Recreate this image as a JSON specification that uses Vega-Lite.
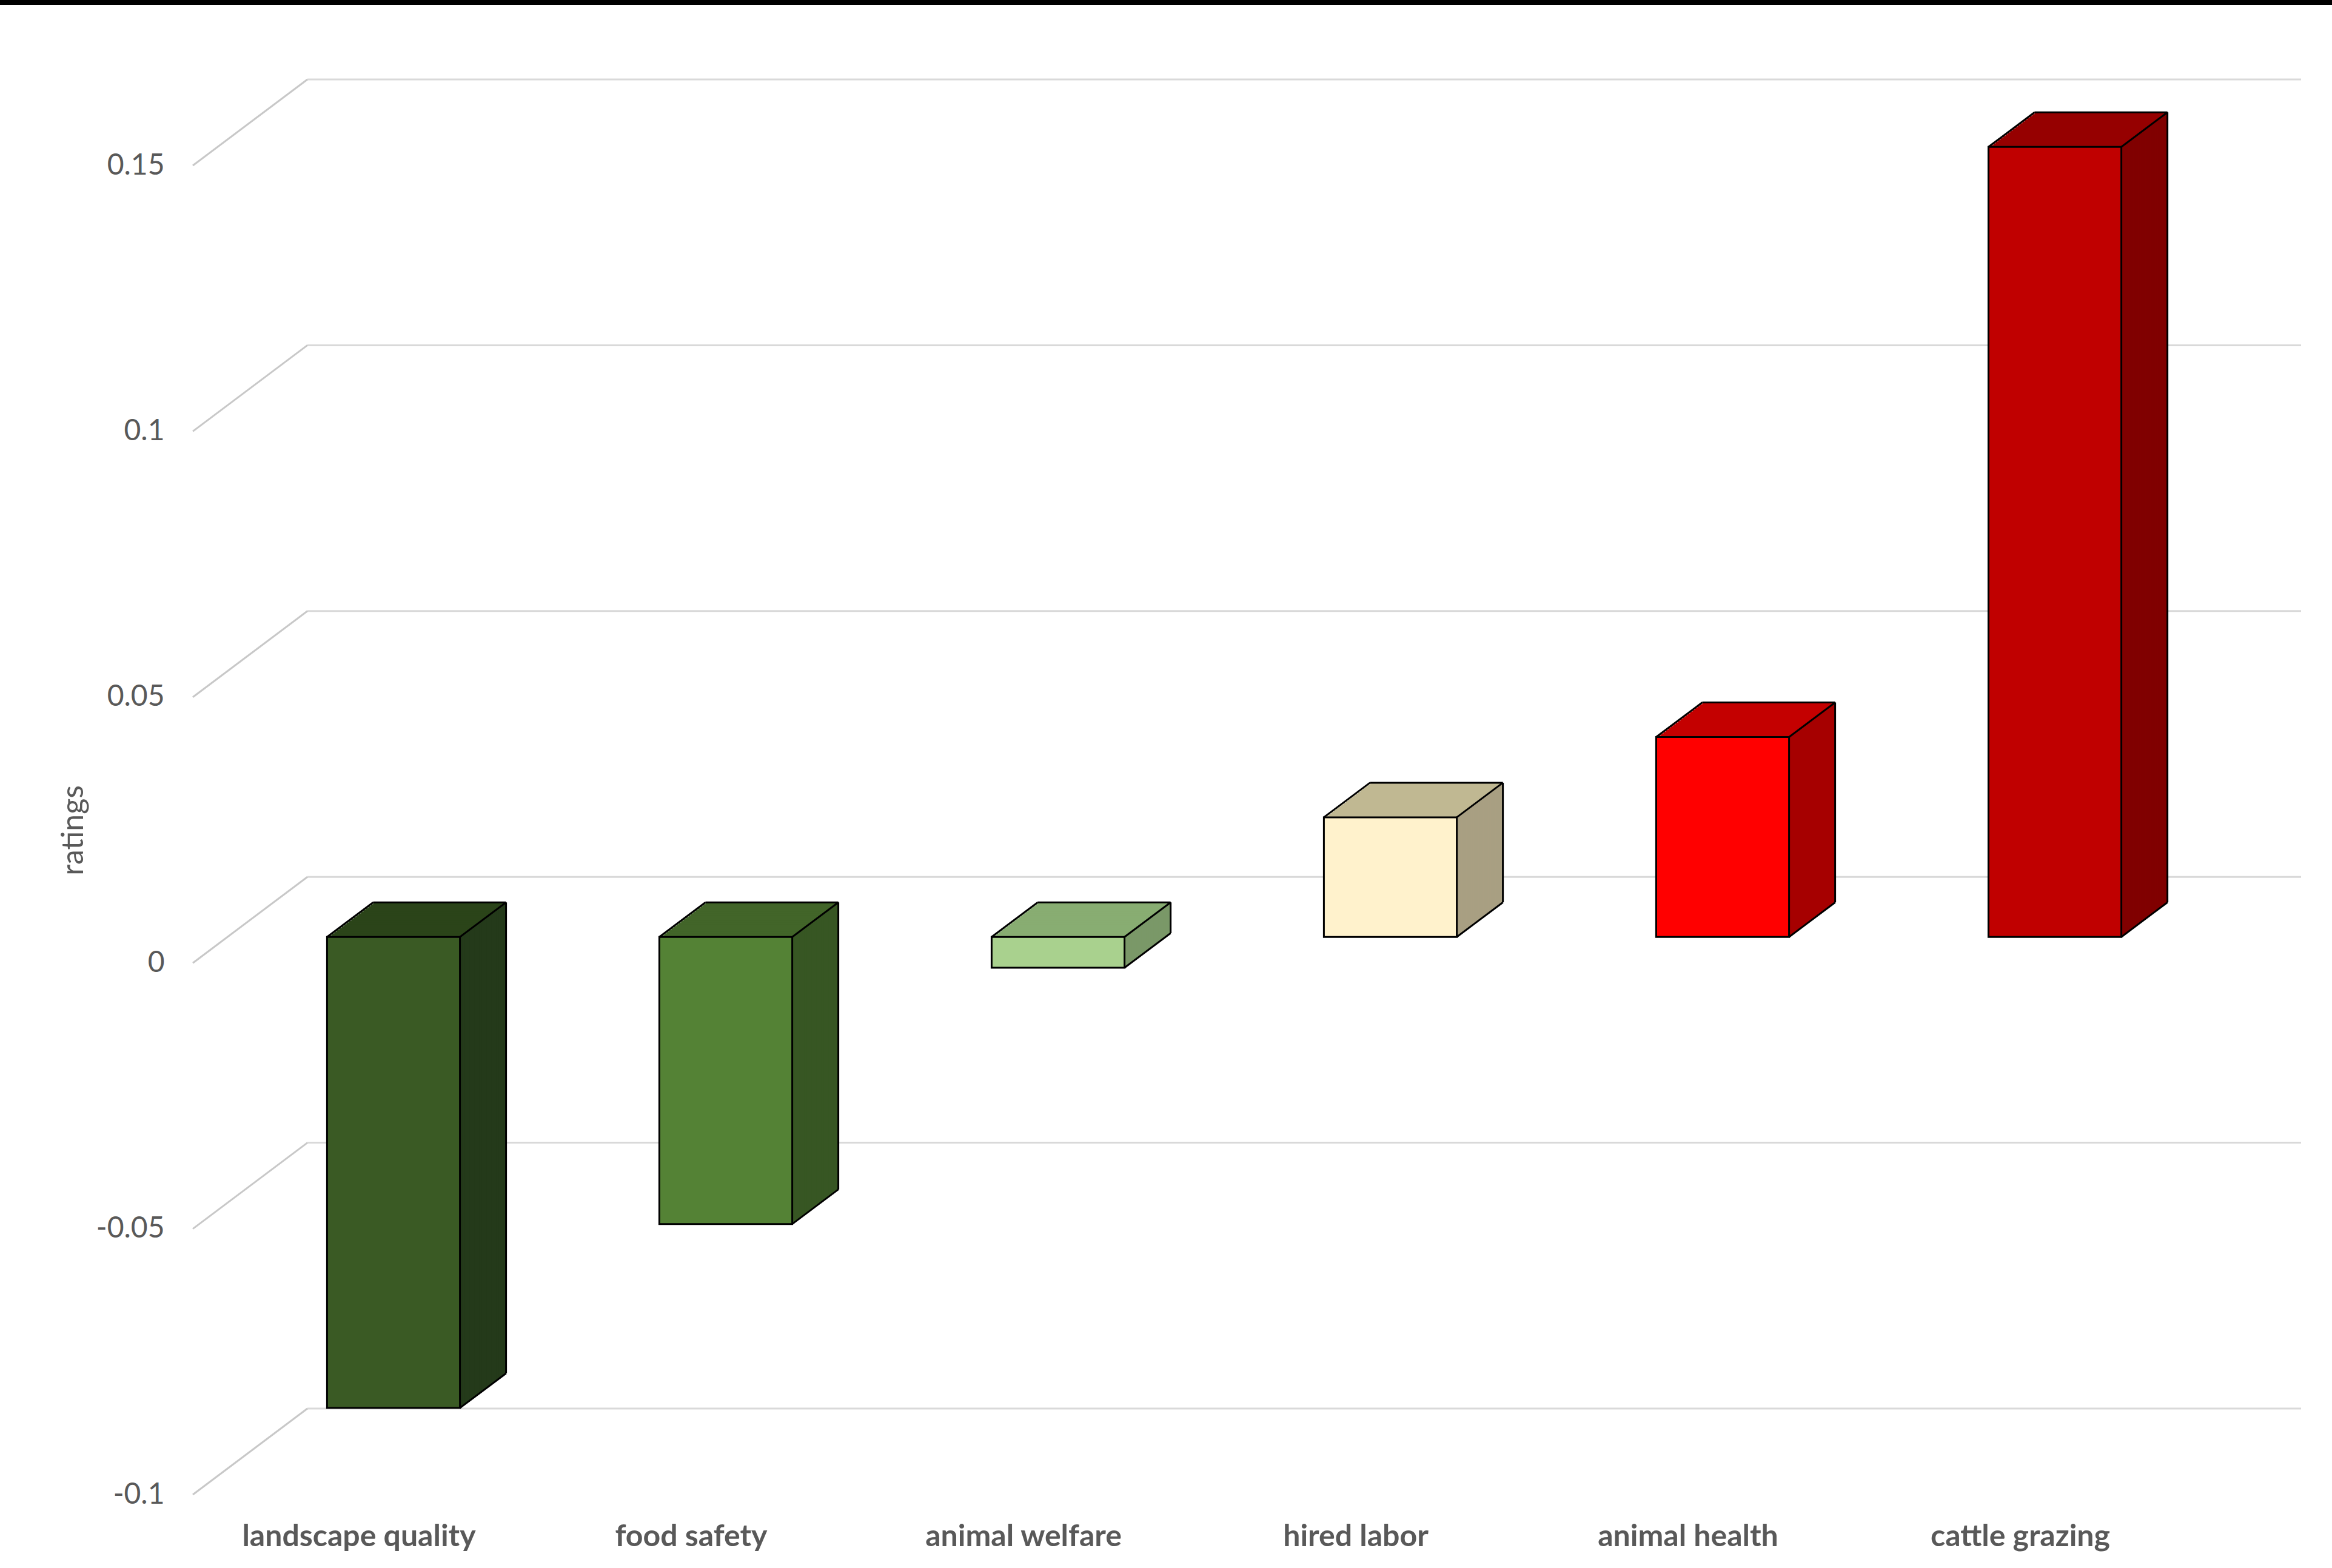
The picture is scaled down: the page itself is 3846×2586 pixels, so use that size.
{
  "$schema": "https://vega.github.io/schema/vega-lite/v6.json",
  "width": 3288,
  "height": 2192,
  "autosize": {"type": "none"},
  "padding": {"left": 318, "top": 273, "right": 240, "bottom": 121},
  "background": "white",
  "config": {"view": {"stroke": null}},
  "datasets": {
    "bars": [
      {"category": "landscape quality", "rating": -0.0886},
      {"category": "food safety", "rating": -0.054},
      {"category": "animal welfare", "rating": -0.0058},
      {"category": "hired labor", "rating": 0.0225},
      {"category": "animal health", "rating": 0.0376},
      {"category": "cattle grazing", "rating": 0.1486}
    ],
    "grid": [{"v": -0.1}, {"v": -0.05}, {"v": 0}, {"v": 0.05}, {"v": 0.1}, {"v": 0.15}],
    "frame": [{"edge": "top"}]
  },
  "layer": [
    {
      "data": {"name": "grid"},
      "encoding": {
        "y": {
          "field": "v", "type": "quantitative", "title": "ratings",
          "scale": {"domain": [-0.1, 0.15], "nice": false, "zero": false},
          "axis": {
            "values": [-0.1, -0.05, 0, 0.05, 0.1, 0.15], "grid": false, "domain": false, "ticks": false,
            "labelExpr": "datum.value < 0 ? '-' + format(-datum.value, '~g') : format(datum.value, '~g')",
            "labelFont": "Lato", "labelFontSize": 48, "labelColor": "#595959", "labelPadding": 47,
            "title": "ratings", "titleFont": "Lato", "titleFontSize": 50, "titleFontWeight": "normal", "titleColor": "#595959", "titlePadding": 12
          }
        }
      },
      "layer": [
        {
          "mark": {"type": "rule", "color": "#d9d9d9", "strokeWidth": 3, "xOffset": -85, "x2Offset": 463, "yOffset": -142},
          "encoding": {"x": {"datum": "landscape quality"}, "x2": {"datum": "cattle grazing"}}
        },
        {
          "mark": {"type": "rule", "color": "#c8c8c8", "strokeWidth": 3, "xOffset": -274, "x2Offset": -85, "y2Offset": -142},
          "encoding": {"x": {"datum": "landscape quality"}, "x2": {"datum": "landscape quality"}, "y2": {"field": "v"}}
        }
      ]
    },
    {
      "data": {"name": "frame"},
      "mark": {"type": "rule", "color": "#000000", "strokeWidth": 8, "xOffset": -592, "x2Offset": 514, "yOffset": -269},
      "encoding": {"x": {"datum": "landscape quality"}, "x2": {"datum": "cattle grazing"}, "y": {"datum": 0.15}}
    },
    {
      "data": {"name": "bars"},
      "encoding": {
        "x": {
          "field": "category", "type": "nominal", "sort": null,
          "scale": {"domain": ["landscape quality", "food safety", "animal welfare", "hired labor", "animal health", "cattle grazing"], "paddingInner": 0.6, "paddingOuter": 0.3},
          "axis": {"title": null, "labelAngle": 0, "labelAlign": "center", "labelBaseline": "top", "domain": false, "ticks": false, "labelLimit": 0, "labelFont": "Lato", "labelFontWeight": "bold", "labelFontSize": 50, "labelColor": "#595959", "labelPadding": 44}
        },
        "y": {
          "field": "rating", "type": "quantitative", "stack": null, "title": "ratings",
          "scale": {"domain": [-0.1, 0.15], "nice": false, "zero": false},
          "axis": {
            "values": [-0.1, -0.05, 0, 0.05, 0.1, 0.15], "grid": false, "domain": false, "ticks": false,
            "labelExpr": "datum.value < 0 ? '-' + format(-datum.value, '~g') : format(datum.value, '~g')",
            "labelFont": "Lato", "labelFontSize": 48, "labelColor": "#595959", "labelPadding": 47,
            "title": "ratings", "titleFont": "Lato", "titleFontSize": 50, "titleFontWeight": "normal", "titleColor": "#595959", "titlePadding": 12
          }
        }
      },
      "resolve": {"scale": {"color": "independent"}},
      "layer": [
        {
          "encoding": {
            "y2": {"datum": 0},
            "color": {"field": "category", "type": "nominal", "legend": null, "scale": {"domain": ["landscape quality", "food safety", "animal welfare", "hired labor", "animal health", "cattle grazing"], "range": ["#2b4419", "#426529", "#88ad72", "#c0b892", "#c40000", "#960000"]}}
          },
          "layer": [
            {"mark": {"type": "bar", "xOffset": 133, "yOffset": -100, "y2Offset": -100}},
            {"mark": {"type": "bar", "xOffset": 129, "yOffset": -97, "y2Offset": -97}},
            {"mark": {"type": "bar", "xOffset": 125, "yOffset": -94, "y2Offset": -94}},
            {"mark": {"type": "bar", "xOffset": 121, "yOffset": -91, "y2Offset": -91}},
            {"mark": {"type": "bar", "xOffset": 117, "yOffset": -88, "y2Offset": -88}},
            {"mark": {"type": "bar", "xOffset": 113, "yOffset": -85, "y2Offset": -85}},
            {"mark": {"type": "bar", "xOffset": 109, "yOffset": -82, "y2Offset": -82}},
            {"mark": {"type": "bar", "xOffset": 105, "yOffset": -79, "y2Offset": -79}},
            {"mark": {"type": "bar", "xOffset": 101, "yOffset": -76, "y2Offset": -76}},
            {"mark": {"type": "bar", "xOffset": 97, "yOffset": -73, "y2Offset": -73}},
            {"mark": {"type": "bar", "xOffset": 93, "yOffset": -70, "y2Offset": -70}},
            {"mark": {"type": "bar", "xOffset": 89, "yOffset": -67, "y2Offset": -67}},
            {"mark": {"type": "bar", "xOffset": 85, "yOffset": -64, "y2Offset": -64}},
            {"mark": {"type": "bar", "xOffset": 81, "yOffset": -61, "y2Offset": -61}},
            {"mark": {"type": "bar", "xOffset": 77, "yOffset": -58, "y2Offset": -58}},
            {"mark": {"type": "bar", "xOffset": 73, "yOffset": -55, "y2Offset": -55}},
            {"mark": {"type": "bar", "xOffset": 69, "yOffset": -52, "y2Offset": -52}},
            {"mark": {"type": "bar", "xOffset": 65, "yOffset": -49, "y2Offset": -49}},
            {"mark": {"type": "bar", "xOffset": 61, "yOffset": -46, "y2Offset": -46}}
          ]
        },
        {
          "encoding": {
            "y2": {"datum": 0},
            "color": {"field": "category", "type": "nominal", "legend": null, "scale": {"domain": ["landscape quality", "food safety", "animal welfare", "hired labor", "animal health", "cattle grazing"], "range": ["#243a1a", "#375623", "#7a9868", "#a89f82", "#a60000", "#800000"]}}
          },
          "layer": [
            {"mark": {"type": "bar", "width": 4.6, "xOffset": 168.6, "yOffset": -44.5, "y2Offset": -44.5}},
            {"mark": {"type": "bar", "width": 4.6, "xOffset": 172.6, "yOffset": -47.5, "y2Offset": -47.5}},
            {"mark": {"type": "bar", "width": 4.6, "xOffset": 176.6, "yOffset": -50.5, "y2Offset": -50.5}},
            {"mark": {"type": "bar", "width": 4.6, "xOffset": 180.6, "yOffset": -53.5, "y2Offset": -53.5}},
            {"mark": {"type": "bar", "width": 4.6, "xOffset": 184.6, "yOffset": -56.5, "y2Offset": -56.5}},
            {"mark": {"type": "bar", "width": 4.6, "xOffset": 188.6, "yOffset": -59.5, "y2Offset": -59.5}},
            {"mark": {"type": "bar", "width": 4.6, "xOffset": 192.6, "yOffset": -62.5, "y2Offset": -62.5}},
            {"mark": {"type": "bar", "width": 4.6, "xOffset": 196.6, "yOffset": -65.5, "y2Offset": -65.5}},
            {"mark": {"type": "bar", "width": 4.6, "xOffset": 200.6, "yOffset": -68.5, "y2Offset": -68.5}},
            {"mark": {"type": "bar", "width": 4.6, "xOffset": 204.6, "yOffset": -71.5, "y2Offset": -71.5}},
            {"mark": {"type": "bar", "width": 4.6, "xOffset": 208.6, "yOffset": -74.5, "y2Offset": -74.5}},
            {"mark": {"type": "bar", "width": 4.6, "xOffset": 212.6, "yOffset": -77.5, "y2Offset": -77.5}},
            {"mark": {"type": "bar", "width": 4.6, "xOffset": 216.6, "yOffset": -80.5, "y2Offset": -80.5}},
            {"mark": {"type": "bar", "width": 4.6, "xOffset": 220.6, "yOffset": -83.5, "y2Offset": -83.5}},
            {"mark": {"type": "bar", "width": 4.6, "xOffset": 224.6, "yOffset": -86.5, "y2Offset": -86.5}},
            {"mark": {"type": "bar", "width": 4.6, "xOffset": 228.6, "yOffset": -89.5, "y2Offset": -89.5}},
            {"mark": {"type": "bar", "width": 4.6, "xOffset": 232.6, "yOffset": -92.5, "y2Offset": -92.5}},
            {"mark": {"type": "bar", "width": 4.6, "xOffset": 236.6, "yOffset": -95.5, "y2Offset": -95.5}},
            {"mark": {"type": "bar", "width": 4.6, "xOffset": 240.6, "yOffset": -98.5, "y2Offset": -98.5}}
          ]
        },
        {
          "transform": [{"filter": "datum.rating > 0"}],
          "layer": [
            {"mark": {"type": "rule", "color": "#000000", "strokeWidth": 3, "xOffset": -52.6, "x2Offset": 23.4, "yOffset": -43, "y2Offset": -100}, "encoding": {"x2": {"field": "category"}, "y2": {"field": "rating"}}},
            {"mark": {"type": "rule", "color": "#000000", "strokeWidth": 3, "xOffset": 166.6, "x2Offset": 242.6, "yOffset": -43, "y2Offset": -100}, "encoding": {"x2": {"field": "category"}, "y2": {"field": "rating"}}},
            {"mark": {"type": "rule", "color": "#000000", "strokeWidth": 3, "xOffset": 23.4, "x2Offset": 242.6, "yOffset": -100, "y2Offset": -100}, "encoding": {"x2": {"field": "category"}, "y2": {"field": "rating"}}},
            {"mark": {"type": "rule", "color": "#000000", "strokeWidth": 3, "xOffset": 166.6, "x2Offset": 242.6, "yOffset": -43, "y2Offset": -100}, "encoding": {"x2": {"field": "category"}, "y": {"datum": 0}, "y2": {"datum": 0}}}
          ]
        },
        {
          "transform": [{"filter": "datum.rating < 0"}],
          "layer": [
            {"mark": {"type": "rule", "color": "#000000", "strokeWidth": 3, "xOffset": -52.6, "x2Offset": 23.4, "yOffset": -43, "y2Offset": -100}, "encoding": {"x2": {"field": "category"}, "y": {"datum": 0}, "y2": {"datum": 0}}},
            {"mark": {"type": "rule", "color": "#000000", "strokeWidth": 3, "xOffset": 166.6, "x2Offset": 242.6, "yOffset": -43, "y2Offset": -100}, "encoding": {"x2": {"field": "category"}, "y": {"datum": 0}, "y2": {"datum": 0}}},
            {"mark": {"type": "rule", "color": "#000000", "strokeWidth": 3, "xOffset": 23.4, "x2Offset": 242.6, "yOffset": -100, "y2Offset": -100}, "encoding": {"x2": {"field": "category"}, "y": {"datum": 0}, "y2": {"datum": 0}}},
            {"mark": {"type": "rule", "color": "#000000", "strokeWidth": 3, "xOffset": 166.6, "x2Offset": 242.6, "yOffset": -43, "y2Offset": -100}, "encoding": {"x2": {"field": "category"}, "y2": {"field": "rating"}}}
          ]
        },
        {
          "mark": {"type": "rule", "color": "#000000", "strokeWidth": 3, "xOffset": 242.6, "yOffset": -100, "y2Offset": -100},
          "encoding": {"y2": {"datum": 0}}
        },
        {
          "mark": {"type": "bar", "xOffset": 57, "yOffset": -43, "y2Offset": -43, "stroke": "#000000", "strokeWidth": 3},
          "encoding": {
            "y2": {"datum": 0},
            "color": {"field": "category", "type": "nominal", "legend": null, "scale": {"domain": ["landscape quality", "food safety", "animal welfare", "hired labor", "animal health", "cattle grazing"], "range": ["#3a5a24", "#548235", "#a9d18e", "#fff2cc", "#ff0000", "#c00000"]}}
          }
        }
      ]
    }
  ]
}
